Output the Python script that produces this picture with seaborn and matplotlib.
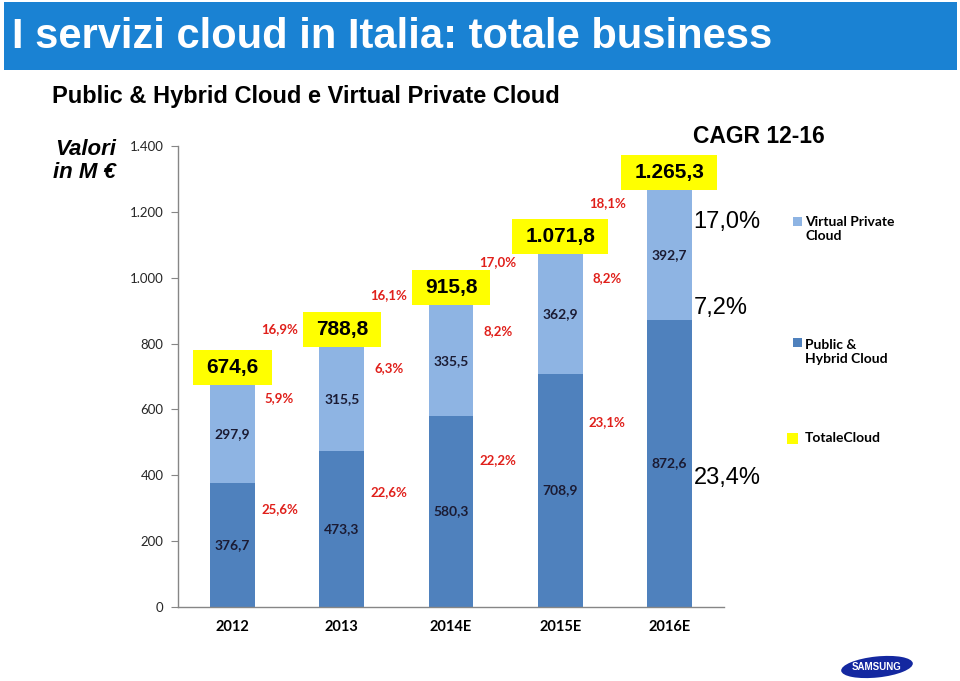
import matplotlib
matplotlib.use("Agg")
import matplotlib.pyplot as plt
import seaborn as sns
import pandas as pd
from matplotlib.patches import Rectangle, Ellipse
from matplotlib.transforms import IdentityTransform

# ---------------- data ----------------
years = ["2012", "2013", "2014E", "2015E", "2016E"]
public_hybrid = [376.7, 473.3, 580.3, 708.9, 872.6]
virtual_private = [297.9, 315.5, 335.5, 362.9, 392.7]
growth_total = [16.9, 16.1, 17.0, 18.1]
growth_vpc = [5.9, 6.3, 8.2, 8.2]
growth_ph = [25.6, 22.6, 22.2, 23.1]
cagr_total = 17.0
cagr_vpc = 7.2
cagr_ph = 23.4
y_ticks = [0, 200, 400, 600, 800, 1000, 1200, 1400]

# ---------------- layout (label positions, data units) ----------------
lab_y_total = [844, 947, 1048, 1227]
lab_y_vpc = [635, 726, 838, 999]
lab_y_ph = [298, 349, 446, 562]
cagr_y = [1169, 908, 392]

DARK = "#4F81BD"
LIGHT = "#8EB4E3"
YEL = "#FFFF00"
RED = "#E0201B"
NAVY = "#1B1B33"

def it_num(v, dec=1):
    s = f"{v:,.{dec}f}"
    return s.replace(",", "X").replace(".", ",").replace("X", ".")

totals = [a + b for a, b in zip(public_hybrid, virtual_private)]
df = pd.DataFrame({"year": years, "ph": public_hybrid, "vpc": virtual_private, "total": totals})

sns.set_style("white")
plt.rcParams["font.family"] = ["Liberation Sans", "DejaVu Sans"]

W, H = 960, 681
fig = plt.figure(figsize=(W / 100, H / 100), dpi=100)
ax = fig.add_axes([178 / W, 1 - 607 / H, (724 - 178) / W, (607 - 146) / H])

sns.barplot(data=df, x="year", y="total", color=LIGHT, saturation=1, width=0.41,
            errorbar=None, ax=ax, zorder=2, linewidth=0, edgecolor="none")
sns.barplot(data=df, x="year", y="ph", color=DARK, saturation=1, width=0.41,
            errorbar=None, ax=ax, zorder=2, linewidth=0, edgecolor="none")

ax.set_xlim(-0.5, 4.5)
ax.set_ylim(0, 1400)
ax.set_xlabel("")
ax.set_ylabel("")
ax.set_yticks(y_ticks)
ax.set_yticklabels([it_num(v, 0) for v in y_ticks], fontfamily="Lato", fontsize=9.5, color="#262626")
ax.set_xticks(range(len(years)))
ax.set_xticklabels(years, fontfamily="Lato", fontweight="bold", fontsize=10.5, color="black")
ax.set_xticks([i - 0.5 for i in range(len(years) + 1)], minor=True)
ax.tick_params(axis="x", which="major", length=0, pad=9.5)
ax.tick_params(axis="x", which="minor", length=5, color="#868686", direction="out")
ax.tick_params(axis="y", length=5, color="#868686", direction="out", pad=5.5, left=True)
for s in ["top", "right"]:
    ax.spines[s].set_visible(False)
for s in ["left", "bottom"]:
    ax.spines[s].set_color("#868686")
    ax.spines[s].set_linewidth(1)

# segment value labels
for i in range(len(years)):
    ax.text(i, public_hybrid[i] / 2, it_num(public_hybrid[i]), ha="center", va="center",
            fontfamily="Lato", fontweight="bold", fontsize=10, color=NAVY, zorder=5)
    ax.text(i, public_hybrid[i] + virtual_private[i] / 2, it_num(virtual_private[i]),
            ha="center", va="center", fontfamily="Lato", fontweight="bold", fontsize=10,
            color=NAVY, zorder=5)

# growth labels
for i in range(len(years) - 1):
    for vals, ys in [(growth_total, lab_y_total), (growth_vpc, lab_y_vpc), (growth_ph, lab_y_ph)]:
        ax.text(i + 0.43, ys[i], it_num(vals[i]) + "%", ha="center", va="center",
                fontfamily="Lato", fontweight="bold", fontsize=9.5, color=RED, zorder=5)

# CAGR labels
for v, yy in zip([cagr_total, cagr_vpc, cagr_ph], cagr_y):
    ax.text(4.22, yy, it_num(v) + "%", ha="left", va="center", fontsize=17,
            color="black", zorder=5, clip_on=False)

# totals in yellow boxes
fig.canvas.draw()
renderer = fig.canvas.get_renderer()
px_x = ax.bbox.width / 5.0
px_y = ax.bbox.height / 1400.0
box_h = 35
for i, t in enumerate(totals):
    txt = ax.text(i, t + (box_h / 2) / px_y, it_num(t), ha="center", va="center",
                  fontsize=15, fontweight="bold", color="black", zorder=6, clip_on=False)
    w = txt.get_window_extent(renderer).width + 26
    ax.add_patch(Rectangle((i - (w / 2) / px_x, t), w / px_x, box_h / px_y,
                           facecolor=YEL, edgecolor="none", zorder=5, clip_on=False))

# ---------------- slide decorations ----------------
def fx(x):
    return x / W

def fy(y):
    return 1 - y / H

fig.patches.append(Rectangle((fx(4), fy(70)), fx(953), 68 / H, transform=fig.transFigure,
                             facecolor="#1A82D3", edgecolor="none", zorder=0))
fig.text(fx(12), fy(48), "I servizi cloud in Italia: totale business", color="white",
         fontsize=30, fontweight="bold", va="baseline", ha="left")
fig.text(fx(52), fy(103), "Public & Hybrid Cloud e Virtual Private Cloud", color="black",
         fontsize=17, fontweight="bold", va="baseline", ha="left")
fig.text(fx(116), fy(161), "Valori\nin M €", color="black", fontsize=16, fontweight="bold",
         fontstyle="italic", ha="right", va="center", multialignment="right", linespacing=1.15)
fig.text(fx(693), fy(143), "CAGR 12-16", color="black", fontsize=16.5, fontweight="bold",
         va="baseline", ha="left")

# legend (manual)
leg = [(LIGHT, "Virtual Private\nCloud", 793, 217, 9, 229),
       (DARK, "Public &\nHybrid Cloud", 793, 338, 9, 352),
       (YEL, "TotaleCloud", 787, 433, 11, 438)]
for col, lab, lx, ly, sz, ty in leg:
    fig.patches.append(Rectangle((fx(lx), fy(ly + sz)), sz / W, sz / H, transform=fig.transFigure,
                                 facecolor=col, edgecolor="none", zorder=1))
    fig.text(fx(805), fy(ty), lab, fontfamily="Lato", fontweight="bold", fontsize=10,
             color="black", ha="left", va="center", linespacing=1.2)

# samsung logo
fig.patches.append(Ellipse((877, H - 667), 72, 21, angle=6, transform=IdentityTransform(),
                           facecolor="#1428A0", edgecolor="none", zorder=1))
fig.text(fx(877), fy(667), "SAMSUNG", color="white", fontsize=7, fontweight="bold",
         ha="center", va="center", zorder=2)

fig.savefig("out.png", dpi=100)
